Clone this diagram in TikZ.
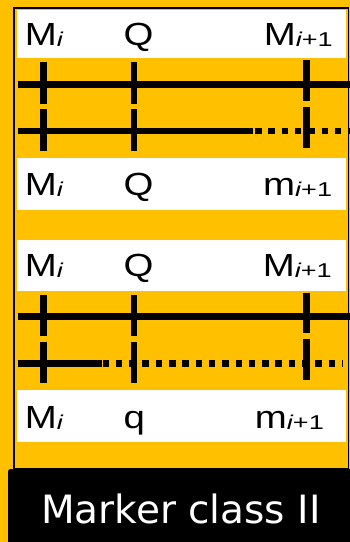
\documentclass[tikz,border=0pt]{standalone}
\usepackage{graphicx}
\usepackage{fontspec}
\newfontfamily\labfont[FakeStretch=1.2]{Liberation Sans}
\newfontfamily\titlefont{DejaVu Sans}
\newcommand\lsub[1]{{\fontsize{20}{22}\selectfont\raisebox{-1pt}{\scalebox{1.13}[1]{#1}}}}
\definecolor{amber}{HTML}{FFC000}
\tikzset{
  lbl/.style={anchor=base west, inner sep=0pt, font=\labfont\fontsize{32}{36}\selectfont},
  band/.style={fill=white},
  chrom/.style={line width=6.5pt, line cap=butt},
  dotted chrom/.style={chrom, dash pattern=on 6.5pt off 6.8pt},
  tick/.style={line width=6.5pt, line cap=butt}
}
\begin{document}
\begin{tikzpicture}[x=1pt,y=-1pt]
  \useasboundingbox (0,0) rectangle (350,542);
  \fill[amber] (0,0) rectangle (350,542);

  % outer frame
  \draw[line width=1.8pt] (13.8,7.7) rectangle (348.5,469);

  % white label bands
  \fill[band] (17,9.5) rectangle (346,58);
  \fill[band] (17,158) rectangle (346,210);
  \fill[band] (17,240) rectangle (346,290.7);
  \fill[band] (17,390) rectangle (346,442);

  % ---- first pair ----
  \draw[chrom] (17.5,84.5) -- (350,84.5);
  \draw[chrom] (17.5,131) -- (253,131);
  \draw[dotted chrom] (255,131) -- (350,131);
  \draw[tick] (43.5,62) -- (43.5,104);
  \draw[tick] (134,62) -- (134,104);
  \draw[tick] (306.7,60) -- (306.7,101);
  \draw[tick] (43.5,109) -- (43.5,151);
  \draw[tick] (134,109) -- (134,151);
  \draw[tick] (306.7,107) -- (306.7,148);

  \node[lbl] (a1) at (24.6,45) {M\lsub{\itshape i}};
  \node[lbl] (a2) at (123.5,45) {Q};
  \node[lbl] (a3) at (263.6,45) {M\lsub{\itshape i\upshape +1}};
  \node[lbl] (b1) at (24.6,195) {M\lsub{\itshape i}};
  \node[lbl] (b2) at (123.5,195) {Q};
  \node[lbl] (b3) at (263,195) {m\lsub{\itshape i\upshape +1}};

  % ---- second pair ----
  \draw[chrom] (17.5,316.7) -- (350,316.7);
  \draw[chrom] (17.5,363.3) -- (101.7,363.3);
  \draw[dotted chrom] (102.5,363.3) -- (342,363.3);
  \draw[tick] (43.5,295) -- (43.5,336);
  \draw[tick] (134,295) -- (134,336);
  \draw[tick] (306.7,292.7) -- (306.7,333);
  \draw[tick] (43.5,341.7) -- (43.5,382.7);
  \draw[tick] (134,341.7) -- (134,382.7);
  \draw[tick] (306.7,339) -- (306.7,380);

  \node[lbl] (c1) at (24.6,276.7) {M\lsub{\itshape i}};
  \node[lbl] (c2) at (123.5,276.7) {Q};
  \node[lbl] (c3) at (262.6,276.7) {M\lsub{\itshape i\upshape +1}};
  \node[lbl] (d1) at (24.6,428.3) {M\lsub{\itshape i}};
  \node[lbl] (d2) at (123.5,428.3) {q};
  \node[lbl] (d3) at (254.7,428.3) {m\lsub{\itshape i\upshape +1}};

  % caption bar
  \fill[black] (350,542) -- (8,542) [rounded corners=2.5pt] -- (8,469) [sharp corners] -- (350,469) -- cycle;
  \node[anchor=base, inner sep=0pt, text=white, font=\titlefont\fontsize{39}{44}\selectfont]
    (title) at (181,523) {Marker class II};
\end{tikzpicture}
\end{document}
